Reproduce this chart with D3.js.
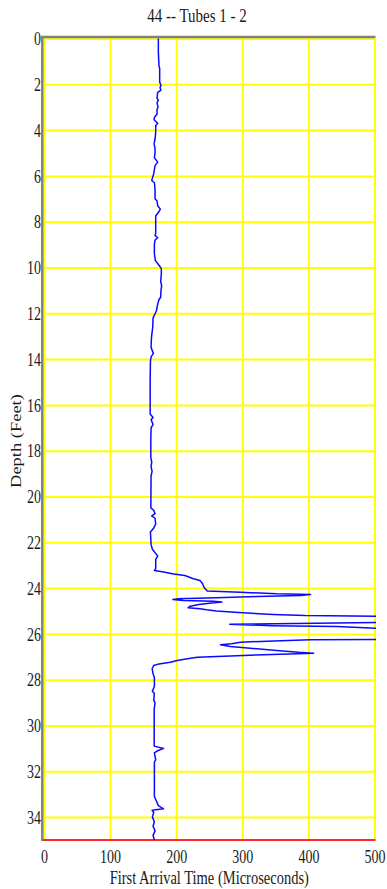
<!DOCTYPE html>
<html>
<head>
<meta charset="utf-8">
<script src="https://cdn.jsdelivr.net/npm/d3@7"></script>
<style>
  html, body { margin: 0; padding: 0; background: #fff; }
  svg { display: block; }
  text { font-family: "Liberation Serif", "Times New Roman", serif; fill: #1a1a1a; }
</style>
</head>
<body>
<svg id="chart" width="387" height="889"></svg>
<script>
// Labels
const chartTitle = "44 -- Tubes 1 - 2";
const xTitle = "First Arrival Time (Microseconds)";
const yTitle = "Depth (Feet)";

// Tick values
const depthTicks = [0, 2, 4, 6, 8, 10, 12, 14, 16, 18, 20, 22, 24, 26, 28, 30, 32, 34];
const timeTicks = [0, 100, 200, 300, 400, 500];

// Crosshole log: depth (ft) and first arrival time (microseconds)
const depthFt = [
  0.0, 0.6, 1.2, 1.3, 1.9, 2.05, 2.15, 2.25, 2.35, 2.6, 2.7, 2.8, 3.0, 3.1, 3.3, 3.45, 3.55, 3.7, 3.8, 4.1,
  4.4, 4.6, 4.8, 5.0, 5.2, 5.4, 5.55, 5.9, 6.1, 6.2, 6.3, 6.6, 7.0, 7.1, 7.3, 7.45, 7.6, 7.75, 8.2, 8.5,
  8.6, 8.7, 8.8, 9.0, 9.4, 9.7, 9.9, 10.05, 10.3, 10.6, 10.8, 11.0, 11.3, 11.4, 11.6, 11.9, 12.2, 12.6, 12.95, 13.1,
  13.5, 13.75, 13.9, 14.1, 15.0, 16.4, 16.55, 16.65, 16.85, 17.0, 17.5, 18.3, 18.5, 18.7, 18.9, 19.1, 20.5, 20.6, 20.75, 20.85,
  20.95, 21.2, 21.4, 21.55, 22.1, 22.3, 22.45, 22.6, 22.75, 23.15, 23.23, 23.3, 23.38, 23.45, 23.59, 23.67, 23.81, 23.96, 24.13, 24.18,
  24.25, 24.28, 24.32, 24.37, 24.42, 24.47, 24.5, 24.54, 24.57, 24.61, 24.65, 24.72, 24.79, 24.86, 24.9, 24.95, 25.0, 25.05, 25.1, 25.15,
  25.2, 25.23, 25.5, 25.53, 25.58, 25.6, 25.64, 25.68, 25.78, 26.24, 26.26, 26.32, 26.36, 26.43, 26.47, 26.55, 26.65, 26.72, 26.8, 26.84,
  26.91, 26.96, 27.02, 27.09, 27.16, 27.24, 27.31, 27.38, 27.52, 27.74, 27.9, 28.3, 28.5, 28.6, 28.9, 29.0, 29.3, 30.9, 31.0, 31.1,
  31.2, 31.5, 31.6, 33.1, 33.3, 33.5, 33.64, 33.7, 33.8, 34.0, 34.2, 34.4, 34.6, 34.8, 35.0
];
const arrivalUs = [
  173, 173, 174, 175, 175, 177, 175.5, 177, 172, 171, 173, 171, 172.5, 171, 171, 167, 166.5, 172, 169, 169,
  168, 166.5, 168, 168, 167, 172, 168, 166, 164, 163, 167, 168, 168, 171, 172, 176, 173, 169, 169, 169,
  168, 172, 168, 167, 167, 168.5, 174, 177.5, 177.5, 176.5, 178, 177, 176.5, 174, 172, 170, 165, 164.5, 163, 162.5,
  162, 165.5, 162, 161, 160.6, 160.6, 165, 162, 165, 162, 161.6, 161.6, 163, 162, 163.5, 162, 161.6, 166, 168, 163,
  168, 169, 165.5, 161, 162, 164, 168, 172, 169, 169, 167, 181, 196, 213, 226, 236, 240, 242, 247, 297,
  352, 403, 388, 322, 261, 203, 195, 211, 256, 269, 254, 234, 221, 218, 236, 246, 261, 289, 314, 347,
  395, 520, 520, 410, 281, 300, 345, 443, 520, 520, 403, 337, 297, 284, 267, 282, 322, 352, 385, 408,
  332, 282, 232, 217, 201.5, 191, 174, 166, 163.6, 165, 167, 167, 164, 167, 166, 168, 166.7, 166.7, 181, 172,
  167, 169, 167, 167, 170, 173, 180.8, 163.6, 166, 164, 167, 165, 168, 165, 167
];

const serif = '"Liberation Serif", "Times New Roman", serif';
const svg = d3.select("#chart");
const x = d3.scaleLinear().domain([0, 500]).range([44, 374.5]);
const y = d3.scaleLinear().domain([0, 35]).range([38.5, 840]);
const plotW = x(500) - x(0);
const plotH = y(35) - y(0);
const stretch = 1.32;   // tall, narrow lettering

// Yellow grid from the axis generators
const gy = svg.append("g")
  .attr("transform", `translate(${x(0)},0)`)
  .call(d3.axisLeft(y).tickValues(depthTicks).tickSize(-plotW).tickPadding(4).tickFormat(d => d));
const gx = svg.append("g")
  .attr("transform", `translate(0,${y(35)})`)
  .call(d3.axisBottom(x).tickValues(timeTicks).tickSize(-plotH).tickPadding(4).tickFormat(d => d));

[gy, gx].forEach(g => {
  g.attr("font-family", serif).attr("font-size", 14);
  g.select(".domain").remove();
  g.selectAll(".tick line").attr("stroke", "#ffff00").attr("stroke-width", 2);
  g.selectAll(".tick text")
    .style("font-family", serif)
    .style("font-size", "14px")
    .attr("fill", "#1a1a1a");
});
gy.selectAll(".tick text").attr("x", -3).attr("dy", "0.34em").attr("transform", `scale(1,${stretch})`);
gx.selectAll(".tick text").attr("y", 17.3).attr("dy", 0).attr("transform", `scale(1,${stretch})`);

// Frame: grey top and left, red base
svg.append("line").attr("x1", 41).attr("x2", x(500) + 1).attr("y1", 37).attr("y2", 37)
  .attr("stroke", "#808080").attr("stroke-width", 2.5);
svg.append("line").attr("x1", 42.3).attr("x2", 42.3).attr("y1", 36).attr("y2", y(35) + 1)
  .attr("stroke", "#808080").attr("stroke-width", 2.5);
svg.append("line").attr("x1", 43).attr("x2", x(500) + 1).attr("y1", y(35)).attr("y2", y(35))
  .attr("stroke", "#ff2a2a").attr("stroke-width", 2);

// Arrival-time trace, clipped to the plot
svg.append("clipPath").attr("id", "plotClip")
  .append("rect").attr("x", x(0)).attr("y", y(0) - 1).attr("width", plotW + 1.5).attr("height", plotH + 1);

const pts = depthFt.map((d, i) => [arrivalUs[i], d]);
svg.append("path")
  .datum(pts)
  .attr("clip-path", "url(#plotClip)")
  .attr("fill", "none")
  .attr("stroke", "#0a0aff")
  .attr("stroke-width", 1.5)
  .attr("stroke-linejoin", "round")
  .attr("d", d3.line().x(p => x(p[0])).y(p => y(p[1])));

// Titles
function stretchedText(tx, ty, str, size, rotate) {
  svg.append("text")
    .attr("transform", `translate(${tx},${ty}) scale(1,${stretch})` + (rotate ? " rotate(-90)" : ""))
    .attr("text-anchor", "middle")
    .attr("dy", "0.35em")
    .style("font-family", serif)
    .style("font-size", size + "px")
    .text(str);
}
stretchedText(197, 15, chartTitle, 15);
stretchedText((x(0) + x(500)) / 2, 877, xTitle, 14.5);
stretchedText(16, 441, yTitle, 14, true);
</script>
</body>
</html>
